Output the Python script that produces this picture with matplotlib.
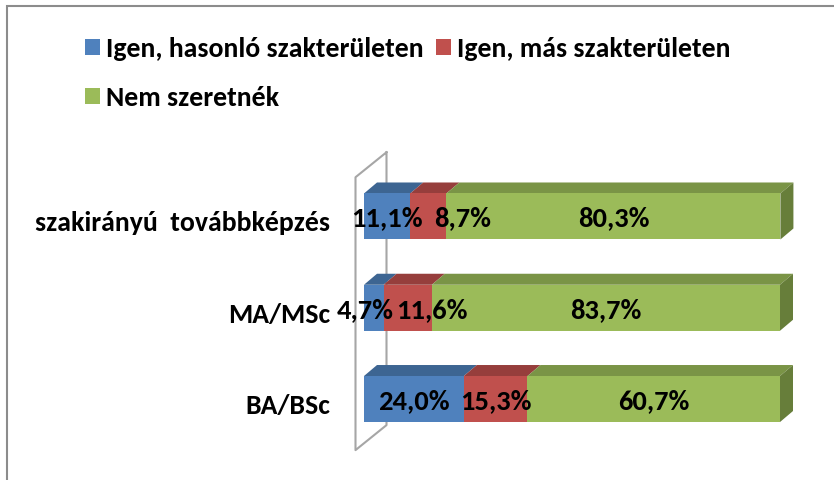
import matplotlib
matplotlib.use("Agg")
import matplotlib.pyplot as plt
from matplotlib.patches import Polygon, Patch, Rectangle

categories = ["BA/BSc", "MA/MSc", "szakirányú  továbbképzés"]
series_names = ["Igen, hasonló szakterületen", "Igen, más szakterületen", "Nem szeretnék"]
similar = [24.0, 4.7, 11.1]
other = [15.3, 11.6, 8.7]
no_thanks = [60.7, 83.7, 80.3]

front_colors = ["#4F81BD", "#C0504D", "#9BBB59"]
top_colors = ["#3D6592", "#963E3C", "#7A9446"]
side_colors = ["#334F74", "#7A3230", "#677E3A"]

# Excel pushed some labels sideways to avoid overlap (pixels)
label_nudge_px = {(1, 0): -8, (1, 1): 24, (2, 1): 34}

plt.rcParams["font.family"] = ["Carlito", "DejaVu Sans"]
plt.rcParams["font.weight"] = "bold"

W, H, DPI = 834, 480, 100
fig = plt.figure(figsize=(W / DPI, H / DPI), dpi=DPI)
ax = fig.add_axes([364 / W, (480 - 462.9) / H, 416 / W, 310.3 / H])
ax.set_xlim(0, 100)
ax.set_ylim(-0.7, 2.7)
ax.axis("off")

# pixel -> data units
p0 = ax.transData.transform((0, 0))
p1 = ax.transData.transform((1, 1))
px_x = p1[0] - p0[0]
px_y = p1[1] - p0[1]
ddx = 13 / px_x
ddy = 11 / px_y
bar_h = 46 / px_y

# back wall (left side of the 3D plot)
wx = -8.5 / px_x
wy0, wy1 = -0.56, 2.43
wdx, wdy = 31 / px_x, 25 / px_y
wall_x = [wx + wdx, wx + wdx, wx, wx, wx + wdx]
wall_y = [wy1 + wdy, wy0 + wdy, wy0, wy1, wy1 + wdy]
ax.plot(wall_x, wall_y, color="#A6A6A6", lw=1.5, zorder=1, clip_on=False)

series = [similar, other, no_thanks]
for i, cat in enumerate(categories):
    left = 0
    y_lo = i - bar_h / 2
    y_hi = i + bar_h / 2
    for j, vals in enumerate(series):
        v = vals[i]
        right = left + v
        ax.add_patch(Rectangle((left, y_lo), v, bar_h, facecolor=front_colors[j],
                               edgecolor="none", zorder=3, clip_on=False))
        top = Polygon([(left, y_hi), (right, y_hi), (right + ddx, y_hi + ddy),
                       (left + ddx, y_hi + ddy)], closed=True,
                      facecolor=top_colors[j], edgecolor="none", zorder=2, clip_on=False)
        ax.add_patch(top)
        if j == len(series) - 1:
            side = Polygon([(right, y_lo), (right, y_hi), (right + ddx, y_hi + ddy),
                            (right + ddx, y_lo + ddy)], closed=True,
                           facecolor=side_colors[j], edgecolor="none", zorder=2, clip_on=False)
            ax.add_patch(side)
        nudge = label_nudge_px.get((i, j), 0) / px_x
        ax.text(left + v / 2 + nudge, i - 10 / px_y, f"{v:.1f}%".replace(".", ","),
                ha="center", va="baseline", fontsize=20.5, fontweight="bold",
                color="black", zorder=5)
        left = right

    ax.text(-34 / px_x, i - 15 / px_y, cat, ha="right", va="baseline",
            fontsize=20, fontweight="bold", color="black")

handles = [Patch(facecolor=c, edgecolor="none") for c in front_colors]
order = [0, 2, 1]
fig.legend([handles[k] for k in order], [series_names[k] for k in order],
           ncol=2, loc="upper left", bbox_to_anchor=(85 / W, 1 - 37 / H),
           frameon=False, fontsize=20, handlelength=0.54, handleheight=0.48,
           handletextpad=0.22, columnspacing=0.43, labelspacing=0.9,
           borderpad=0, borderaxespad=0)

# outer chart border (cut off at right and bottom)
fig.add_artist(Rectangle((6.5 / W, -0.1), 1.2, 1 - 6 / H + 0.1, transform=fig.transFigure,
                         fill=False, edgecolor="#8C8C8C", lw=1.5))

fig.savefig("out.png", dpi=DPI)
plt.close(fig)
